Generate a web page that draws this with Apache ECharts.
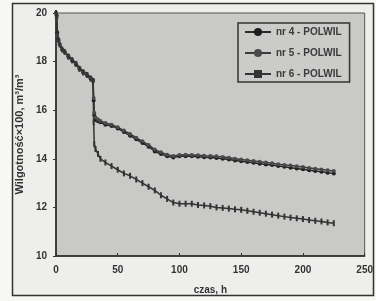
<!DOCTYPE html>
<html>
<head>
<meta charset="utf-8">
<script src="https://cdn.jsdelivr.net/npm/echarts@6/dist/echarts.min.js"></script>
<style>
  html, body { margin: 0; padding: 0; background: #f7f7f5; }
  #chart { width: 376px; height: 301px; }
</style>
</head>
<body>
<div id="chart"></div>
<script>
// czas, h
var czas = [0, 0.5, 1, 2, 3, 5, 7, 10, 13, 16, 19, 22, 25, 28, 30, 30.5, 31, 32, 34, 36, 40, 45, 50, 55, 60, 65, 70, 75, 80, 85, 90, 95, 100, 105, 110, 115, 120, 125, 130, 135, 140, 145, 150, 155, 160, 165, 170, 175, 180, 185, 190, 195, 200, 205, 210, 215, 220, 225]
// nr 4 - POLWIL
var nr4 = [20.0, 19.9, 19.2, 18.9, 18.7, 18.5, 18.4, 18.2, 18.05, 17.9, 17.7, 17.55, 17.45, 17.3, 17.2, 16.4, 15.8, 15.6, 15.55, 15.5, 15.4, 15.35, 15.25, 15.1, 14.95, 14.8, 14.65, 14.5, 14.3, 14.2, 14.1, 14.05, 14.1, 14.1, 14.1, 14.08, 14.06, 14.05, 14.03, 14.0, 13.97, 13.93, 13.9, 13.87, 13.84, 13.8, 13.77, 13.74, 13.7, 13.67, 13.63, 13.6, 13.57, 13.53, 13.5, 13.47, 13.43, 13.4]
// nr 5 - POLWIL
var nr5 = [20.0, 19.8, 19.1, 18.85, 18.7, 18.5, 18.4, 18.25, 18.1, 17.95, 17.75, 17.6, 17.5, 17.35, 17.25, 16.5, 15.9, 15.7, 15.62, 15.56, 15.47, 15.4, 15.3, 15.16, 15.02, 14.87, 14.72, 14.57, 14.38, 14.27, 14.17, 14.12, 14.16, 14.17, 14.16, 14.15, 14.13, 14.12, 14.1, 14.07, 14.04, 14.0, 13.97, 13.94, 13.91, 13.88, 13.85, 13.82, 13.78, 13.75, 13.72, 13.69, 13.66, 13.62, 13.59, 13.56, 13.53, 13.5]
// nr 6 - POLWIL
var nr6 = [20.0, 19.9, 19.2, 18.9, 18.7, 18.5, 18.4, 18.2, 18.05, 17.9, 17.7, 17.55, 17.45, 17.3, 17.2, 15.5, 14.6, 14.4, 14.2, 14.0, 13.85, 13.7, 13.55, 13.4, 13.3, 13.15, 13.0, 12.85, 12.7, 12.5, 12.35, 12.2, 12.15, 12.15, 12.15, 12.1, 12.08, 12.05, 12.0, 11.98, 11.95, 11.92, 11.9, 11.86, 11.82, 11.78, 11.74, 11.7, 11.66, 11.62, 11.58, 11.55, 11.52, 11.48, 11.45, 11.42, 11.38, 11.35]

function pairs (ys) {
  return czas.map(function (t, i) { return [t, ys[i]] })
}

var myCharts = echarts.init(document.getElementById('chart'))
myCharts.setOption({
  animation: false,
  textStyle: { fontFamily: 'Liberation Sans, Arial, sans-serif' },
  graphic: [
    {
      type: 'rect',
      z: -10,
      shape: { x: 12.5, y: 3.5, width: 361, height: 292 },
      style: { fill: '#eeeeec', stroke: '#333', lineWidth: 1.5 }
    }
  ],
  grid: {
    left: 56,
    right: 10,
    top: 13,
    bottom: 45,
    show: true,
    backgroundColor: '#c9c9c7',
    borderColor: '#555',
    borderWidth: 1
  },
  legend: {
    orient: 'vertical',
    left: 238,
    top: 23,
    itemWidth: 26,
    itemHeight: 10,
    itemGap: 11,
    padding: [4, 8, 3, 6],
    backgroundColor: '#cbcbc9',
    borderColor: '#333',
    borderWidth: 1.5,
    textStyle: { fontSize: 10, fontWeight: 'bold', color: '#3a3a3a' },
    data: ['nr 4 - POLWIL', 'nr 5 - POLWIL', 'nr 6 - POLWIL']
  },
  xAxis: {
    type: 'value',
    min: 0,
    max: 250,
    interval: 50,
    name: 'czas, h',
    nameLocation: 'middle',
    nameGap: 29,
    nameTextStyle: { fontSize: 10, fontWeight: 'bold', color: '#333' },
    axisLine: { lineStyle: { color: '#222', width: 1.5 } },
    axisTick: { inside: true, length: 3, lineStyle: { color: '#333' } },
    axisLabel: { fontSize: 10, fontWeight: 'bold', color: '#333', margin: 9 },
    splitLine: { show: false }
  },
  yAxis: {
    type: 'value',
    min: 10,
    max: 20,
    interval: 2,
    name: 'Wilgotność×100, m³/m³',
    nameLocation: 'middle',
    nameGap: 28,
    nameTextStyle: { fontSize: 11, fontWeight: 'bold', color: '#333' },
    axisLine: { show: true, lineStyle: { color: '#222', width: 1.5 } },
    axisTick: { show: true, length: 3, lineStyle: { color: '#333' } },
    axisLabel: { fontSize: 10, fontWeight: 'bold', color: '#333', margin: 9 },
    splitLine: { show: false }
  },
  series: [
    {
      name: 'nr 4 - POLWIL',
      type: 'line',
      data: pairs(nr4),
      symbol: 'circle',
      symbolSize: 4,
      itemStyle: { color: '#1e1e1e' },
      lineStyle: { color: '#2a2a2a', width: 1.5 }
    },
    {
      name: 'nr 5 - POLWIL',
      type: 'line',
      data: pairs(nr5),
      symbol: 'circle',
      symbolSize: 4,
      itemStyle: { color: '#4a4a4a' },
      lineStyle: { color: '#3a3a3a', width: 1.5 }
    },
    {
      name: 'nr 6 - POLWIL',
      type: 'line',
      data: pairs(nr6),
      symbol: 'path://M3,0 L5,0 L5,8 L3,8 Z',
      symbolSize: [2, 6],
      itemStyle: { color: '#333' },
      lineStyle: { color: '#333', width: 1.5 }
    }
  ]
})
</script>
</body>
</html>
